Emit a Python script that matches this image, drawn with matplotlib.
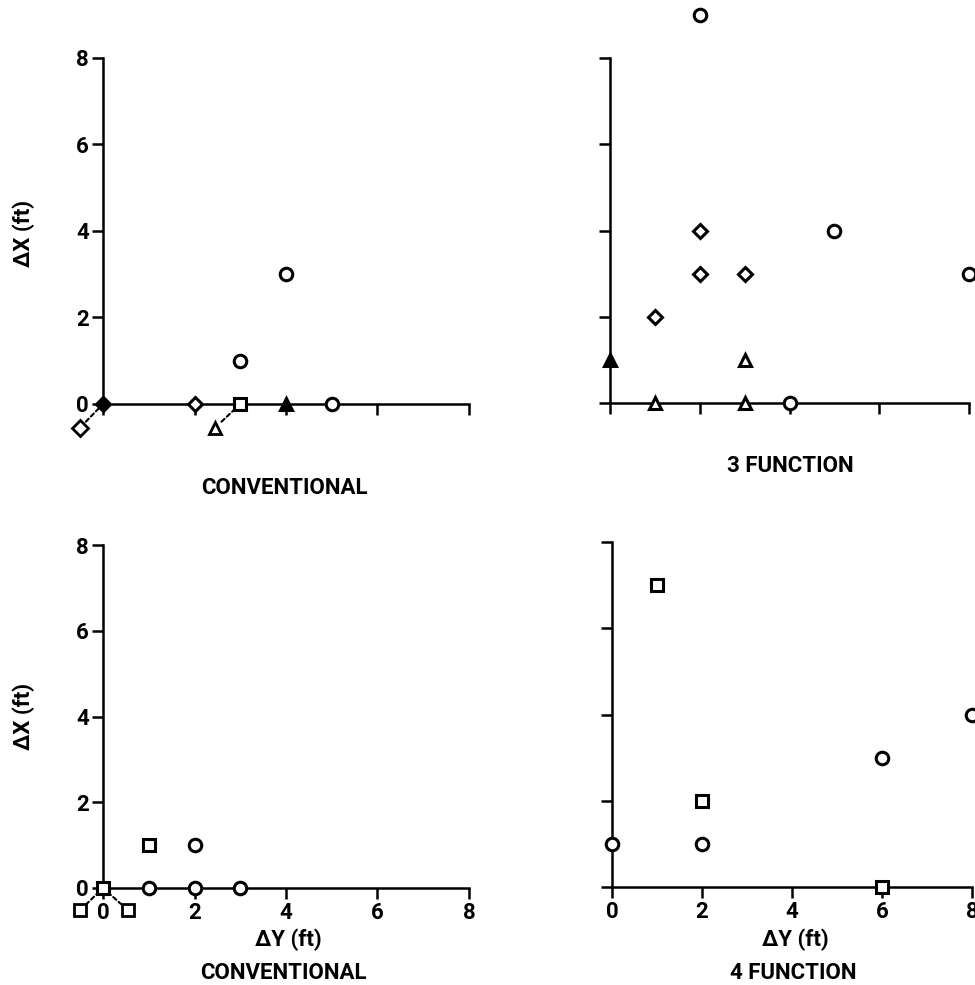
import matplotlib.pyplot as plt
from matplotlib.transforms import offset_copy

plt.rcParams['font.family'] = ['Roboto', 'DejaVu Sans']
plt.rcParams['font.weight'] = 'bold'

ticks = [0, 2, 4, 6, 8]
tick_labels = ['0', '2', '4', '6', '8']

# top left : conventional
tl_circ_x, tl_circ_y = [3, 4, 5], [1, 3, 0]
tl_diam_x, tl_diam_y = [2], [0]
tl_orig_x, tl_orig_y = [0], [0]
tl_sq_x, tl_sq_y = [3], [0]
tl_ftri_x, tl_ftri_y = [4], [0]
tl_callout = [('D', 0, 0, -16.5, -17), ('^', 3, 0, -18, -17)]

# top right : 3 function
tr_circ_x, tr_circ_y = [2, 5, 8, 4], [9, 4, 3, 0]
tr_diam_x, tr_diam_y = [1, 2, 2, 3], [2, 4, 3, 3]
tr_tri_x, tr_tri_y = [1, 3, 3], [0, 1, 0]
tr_ftri_x, tr_ftri_y = [0], [1]

# bottom left : conventional
bl_sq_x, bl_sq_y = [0, 1], [0, 1]
bl_circ_x, bl_circ_y = [1, 2, 3, 2], [0, 0, 0, 1]
bl_callout = [('s', 0, 0, -16.5, -16), ('s', 0, 0, 18, -16)]

# bottom right : 4 function
br_sq_x, br_sq_y = [1, 2, 6], [7, 2, 0]
br_circ_x, br_circ_y = [0, 2, 6, 8], [1, 1, 3, 4]

W, H = 975, 985
fig = plt.figure(figsize=(W / 100, H / 100), dpi=100)


def make_axes(x0, x1, y0, y1, xlabels, ylabels):
    ax = fig.add_axes([x0 / W, 1 - y0 / H, (x1 - x0) / W, (y0 - y1) / H])
    ax.set_xlim(0, 8)
    ax.set_ylim(0, 8)
    for s in ['top', 'right']:
        ax.spines[s].set_visible(False)
    for s in ['left', 'bottom']:
        ax.spines[s].set_linewidth(1.8)
    ax.set_xticks(ticks)
    ax.set_yticks(ticks)
    ax.set_xticklabels(tick_labels if xlabels else [])
    ax.set_yticklabels(tick_labels if ylabels else [])
    ax.tick_params(length=8, width=1.8, labelsize=16, pad=2)
    return ax


def pts(ax, x, y, m, filled=False, ms=9):
    ax.plot(x, y, ls='none', marker=m, ms=ms, mew=2.2, mec='black',
            mfc='black' if filled else 'white', clip_on=False, zorder=5)


def callouts(ax, items):
    for m, x, y, dx, dy in items:
        tr = offset_copy(ax.transData, fig=fig, x=dx, y=dy, units='points')
        ax.plot([x], [y], ls='none', marker=m, ms=8, mew=2, mec='black',
                mfc='white', transform=tr, clip_on=False, zorder=5)
        ax.annotate('', xy=(x, y), xytext=(dx * 0.75, dy * 0.75),
                    textcoords='offset points',
                    arrowprops=dict(arrowstyle='-', lw=1.5, ls=(0, (2, 1.5)),
                                    shrinkA=0, shrinkB=2))


ax1 = make_axes(103, 469, 404, 58, False, True)
pts(ax1, tl_circ_x, tl_circ_y, 'o')
pts(ax1, tl_diam_x, tl_diam_y, 'D', ms=7)
pts(ax1, tl_orig_x, tl_orig_y, 'D', filled=True, ms=7)
pts(ax1, tl_sq_x, tl_sq_y, 's', ms=8)
pts(ax1, tl_ftri_x, tl_ftri_y, '^', filled=True)
callouts(ax1, tl_callout)

ax2 = make_axes(610, 969, 403, 58, False, False)
pts(ax2, tr_circ_x, tr_circ_y, 'o')
pts(ax2, tr_diam_x, tr_diam_y, 'D', ms=7)
pts(ax2, tr_tri_x, tr_tri_y, '^')
pts(ax2, tr_ftri_x, tr_ftri_y, '^', filled=True)

ax3 = make_axes(103, 469, 888, 545, True, True)
pts(ax3, bl_sq_x, bl_sq_y, 's', ms=8)
pts(ax3, bl_circ_x, bl_circ_y, 'o')
callouts(ax3, bl_callout)

ax4 = make_axes(612, 972, 887, 542, True, False)
pts(ax4, br_sq_x, br_sq_y, 's', ms=8)
pts(ax4, br_circ_x, br_circ_y, 'o')

fs = 16
fig.text(24 / W, 1 - 233 / H, '\u0394X (ft)', rotation=90, ha='center', va='center', fontsize=fs)
fig.text(24 / W, 1 - 716 / H, '\u0394X (ft)', rotation=90, ha='center', va='center', fontsize=fs)
fig.text(284 / W, 1 - 488 / H, 'CONVENTIONAL', ha='center', va='center', fontsize=fs)
fig.text(790 / W, 1 - 466 / H, '3 FUNCTION', ha='center', va='center', fontsize=fs)
fig.text(288 / W, 1 - 940 / H, '\u0394Y (ft)', ha='center', va='center', fontsize=fs)
fig.text(795 / W, 1 - 940 / H, '\u0394Y (ft)', ha='center', va='center', fontsize=fs)
fig.text(283 / W, 1 - 973 / H, 'CONVENTIONAL', ha='center', va='center', fontsize=fs)
fig.text(793 / W, 1 - 973 / H, '4 FUNCTION', ha='center', va='center', fontsize=fs)

fig.savefig('out.png', dpi=100)
